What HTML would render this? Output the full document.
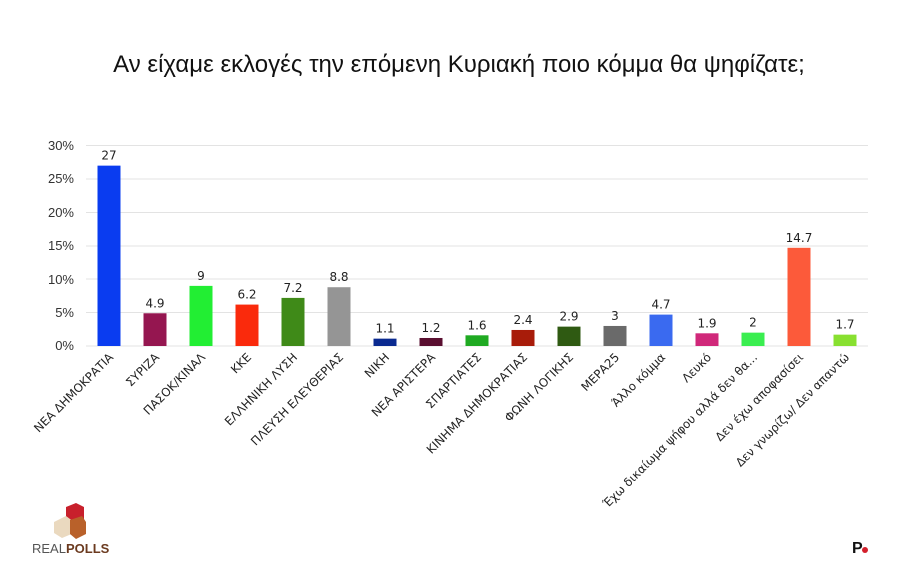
<!DOCTYPE html>
<html><head><meta charset="utf-8"><style>
html,body{margin:0;padding:0;background:#fff;}
svg{display:block;font-family:"Liberation Sans","DejaVu Sans",sans-serif;}
</style></head><body>
<svg width="900" height="573" viewBox="0 0 900 573" xmlns="http://www.w3.org/2000/svg">
<rect width="900" height="573" fill="#fff"/>
<text x="459" y="72" font-size="24" text-anchor="middle" fill="#111">Αν είχαμε εκλογές την επόμενη Κυριακή ποιο κόμμα θα ψηφίζατε;</text>
<g stroke="#e3e3e3" stroke-width="1">
<line x1="86" x2="868" y1="145.5" y2="145.5"/><line x1="86" x2="868" y1="179" y2="179"/>
<line x1="86" x2="868" y1="212.5" y2="212.5"/><line x1="86" x2="868" y1="246" y2="246"/>
<line x1="86" x2="868" y1="279" y2="279"/><line x1="86" x2="868" y1="312.5" y2="312.5"/>
<line x1="86" x2="868" y1="346" y2="346"/>
</g>
<g font-size="13" fill="#333" text-anchor="end">
<text x="74" y="150">30%</text><text x="74" y="183">25%</text><text x="74" y="217">20%</text>
<text x="74" y="250">15%</text><text x="74" y="284">10%</text><text x="74" y="317">5%</text><text x="74" y="350">0%</text>
</g>
<g id="bars"></g>
<g font-size="12" fill="#222" text-anchor="middle" font-family="DejaVu Sans, sans-serif" id="vals"></g>
<g font-size="11.8" fill="#222" text-anchor="end" font-family="DejaVu Sans, sans-serif" id="labs"></g>
<polygon points="66,507 76,503 84,507 84,522 66,522" fill="#c8202c"/>
<polygon points="54,522 66,516 74,522 74,533 62,538 54,533" fill="#ead9bf"/>
<polygon points="70,520 82,516 86,522 86,534 76,539 70,534" fill="#b9612a"/>
<text x="32" y="553" font-size="13" fill="#555">REAL<tspan font-weight="bold" fill="#6b3a1f">POLLS</tspan></text>
<text x="852" y="553" font-size="16" font-weight="bold" fill="#111">P</text>
<circle cx="865" cy="550" r="3" fill="#d4202c"/>
<script>
var d=[["ΝΕΑ ΔΗΜΟΚΡΑΤΙΑ",27,"#0a3cf0"],["ΣΥΡΙΖΑ",4.9,"#951650"],["ΠΑΣΟΚ/ΚΙΝΑΛ",9,"#22ee33"],["ΚΚΕ",6.2,"#fa2a0c"],["ΕΛΛΗΝΙΚΗ ΛΥΣΗ",7.2,"#3f8a18"],["ΠΛΕΥΣΗ ΕΛΕΥΘΕΡΙΑΣ",8.8,"#959595"],["ΝΙΚΗ",1.1,"#0a2a90"],["ΝΕΑ ΑΡΙΣΤΕΡΑ",1.2,"#5a0f30"],["ΣΠΑΡΤΙΑΤΕΣ",1.6,"#1faa22"],["ΚΙΝΗΜΑ ΔΗΜΟΚΡΑΤΙΑΣ",2.4,"#a81c0a"],["ΦΩΝΗ ΛΟΓΙΚΗΣ",2.9,"#2f5a12"],["ΜΕΡΑ25",3,"#6a6a6a"],["Άλλο κόμμα",4.7,"#3a6af0"],["Λευκό",1.9,"#d0287a"],["Έχω δικαίωμα ψήφου αλλά δεν θα...",2,"#3aee50"],["Δεν έχω αποφασίσει",14.7,"#fc5a3a"],["Δεν γνωρίζω/ Δεν απαντώ",1.7,"#88e030"]];
var ns="http://www.w3.org/2000/svg",b=document.getElementById("bars"),v=document.getElementById("vals"),l=document.getElementById("labs");
d.forEach(function(e,i){var cx=109+i*46,h=e[1]*6.68,y=346-h;
var r=document.createElementNS(ns,"rect");r.setAttribute("x",cx-11.5);r.setAttribute("y",y);r.setAttribute("width",23);r.setAttribute("height",h);r.setAttribute("fill",e[2]);b.appendChild(r);
var t=document.createElementNS(ns,"text");t.setAttribute("x",cx);t.setAttribute("y",y-6);t.textContent=e[1];v.appendChild(t);
var s=document.createElementNS(ns,"text");s.setAttribute("transform","translate("+(cx+5)+",358) rotate(-45)");s.textContent=e[0];l.appendChild(s);});
</script>
</svg>
</body></html>
